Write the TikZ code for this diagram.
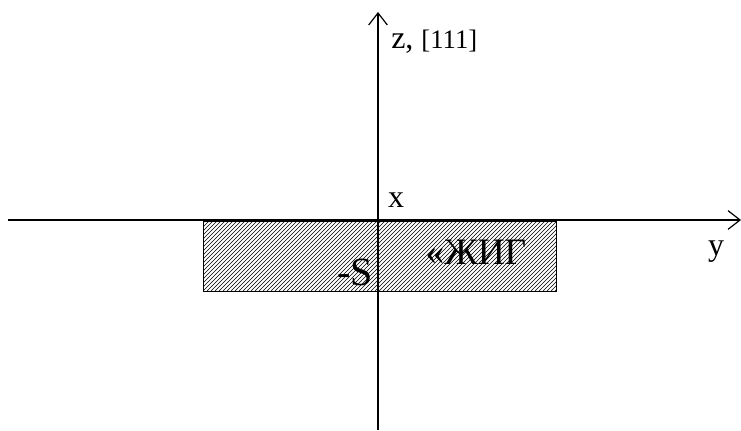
\documentclass[tikz,border=0pt]{standalone}
\usepackage{fontspec}
\setmainfont{Liberation Serif}
\usetikzlibrary{arrows.meta,patterns}

\begin{document}
\begin{tikzpicture}[
    x=0.75pt, y=-0.75pt,
    axis/.style={line width=1.1pt, -{Straight Barb[length=9pt, width=14pt, line width=0.9pt]}},
    lbl/.style={inner sep=0pt, font=\fontsize{#1}{#1}\selectfont},
    lbl/.default=24pt
]
    \useasboundingbox (0,0) rectangle (741,430);

    % ==========================================
    % HATCHED LAYER
    % ==========================================
    \draw[line width=0.6pt, pattern=north east lines] (203,221) rectangle (556,291);

    % ==========================================
    % AXES
    % ==========================================
    \coordinate (y_start) at (8, 220);
    \coordinate (y_end)   at (741, 220);
    \coordinate (z_start) at (378, 430);
    \coordinate (z_end)   at (378, 12);

    \draw[axis] (y_start) -- (y_end);
    \draw[axis] (z_start) -- (z_end);

    % Labels
    \node[lbl, anchor=west] (z_lbl) at (391, 42) {z, {\fontsize{20pt}{20pt}\selectfont[111]}};
    \node[lbl] (x_lbl) at (396, 200) {x};
    \node[lbl] (y_lbl) at (716, 252) {y};
    \node[lbl=30pt] (s_lbl)   at (355, 272) {-S};
    \node[lbl=28pt] (jig_lbl) at (476, 252) {«ЖИГ};

\end{tikzpicture}
\end{document}
